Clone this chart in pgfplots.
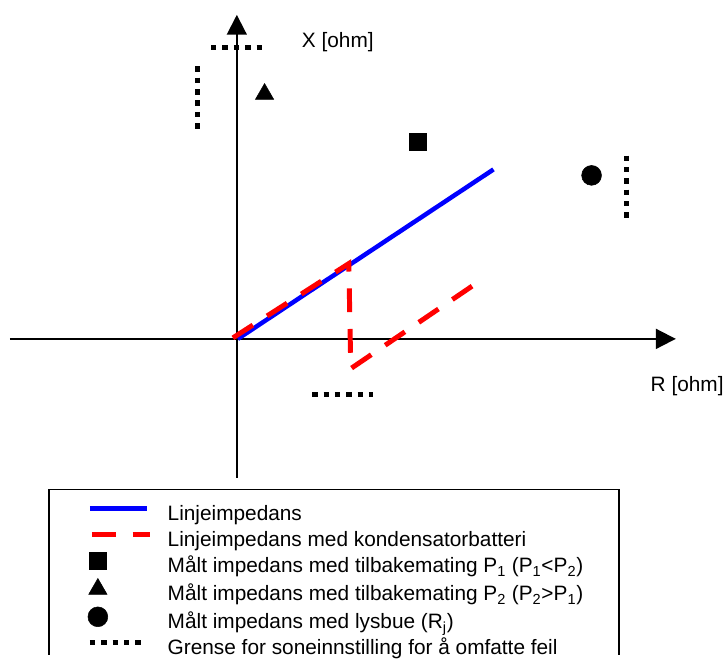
\documentclass[border=0pt]{standalone}
\usepackage{fontspec}
\setmainfont{Liberation Sans}
\usepackage{pgfplots}
\pgfplotsset{compat=1.18}
\usetikzlibrary{arrows.meta}

\pgfplotsset{
    lineimg/.style={legend image code/.code={\draw[##1] (0pt,3.75pt) -- (43.5pt,3.75pt); \path[draw=none] (0,0) -- (45.75pt,0);}},
    dashimg/.style={legend image code/.code={\draw[##1] (1.5pt,3.75pt) -- (45.75pt,3.75pt);}},
    markimg/.style={legend image code/.code={\draw[##1] plot coordinates {(6pt,3.75pt)}; \path[draw=none] (0,0) -- (45.75pt,0);}},
    dotimg/.style={legend image code/.code={\draw[##1] (0pt,3.75pt) -- (41.25pt,3.75pt); \path[draw=none] (0,0) -- (45.75pt,0);}},
}

\begin{document}
\begin{tikzpicture}
\begin{axis}[
    x=0.75pt, y=0.75pt,
    xmin=0, xmax=728, ymin=0, ymax=661,
    hide axis, clip=false,
    unbounded coords=jump,
    legend cell align=left,
    legend style={at={(axis cs:88,156)}, anchor=north west, draw=none, fill=none,
        inner sep=0pt, row sep=0pt, column sep=11.25pt,
        font=\fontsize{15.75}{18}\selectfont,
        nodes={inner sep=0pt, text height=15pt, text depth=4.5pt}},
]
% keeps the picture the size of the whole frame
\addplot[draw=none, forget plot] coordinates {(0,0) (728,661)};

% R and X axes
\addplot[black, line width=1.5pt, -{Triangle[length=15pt,width=15pt]}, forget plot]
    coordinates {(10,319) (682,319)};
\addplot[black, line width=1.5pt, -{Triangle[length=15pt,width=15pt]}, forget plot]
    coordinates {(239,179) (239,646)};

% legend frame (cut at the bottom)
\addplot[black, line width=1.5pt, forget plot]
    coordinates {(49,0) (49,167) (625,167) (625,0)};

% Linjeimpedans
\addplot[blue, line width=3.4pt, lineimg]
    coordinates {(240,319) (498,490)};
% med kondensatorbatteri
\addplot[red, line width=3.75pt, dash pattern=on 18pt off 12.75pt, dashimg]
    coordinates {(235,320) (352,395) (354,289) (479,374)};
% P1
\addplot[black, only marks, mark=square*, mark size=6.4pt, markimg]
    coordinates {(422,518)};
% P2
\addplot[black, only marks, mark=triangle*, mark size=8pt, markimg]
    coordinates {(267,566)};
% lysbue
\addplot[black, only marks, mark=*, mark size=7.5pt, markimg]
    coordinates {(597,484)};
% soneinnstilling
\addplot[black, line width=3.75pt, dash pattern=on 4.1pt off 4.5pt, dotimg]
    coordinates {(213,613) (267,613) (nan,nan)
                 (199,594) (199,531) (nan,nan)
                 (632,504) (632,441) (nan,nan)
                 (315,263) (376,263)};

\legend{Linjeimpedans,
    Linjeimpedans med kondensatorbatteri,
    Målt impedans med tilbakemating P\textsubscript{1} (P\textsubscript{1}<P\textsubscript{2}),
    Målt impedans med tilbakemating P\textsubscript{2} (P\textsubscript{2}>P\textsubscript{1}),
    Målt impedans med lysbue (R\textsubscript{j}),
    Grense for soneinnstilling for å omfatte feil}

\node[anchor=base west, font=\fontsize{15.75}{18}\selectfont] at (axis cs:300,613) {X [ohm]};
\node[anchor=base west, font=\fontsize{15.75}{18}\selectfont] at (axis cs:652,266) {R [ohm]};
\end{axis}
\end{tikzpicture}
\end{document}
